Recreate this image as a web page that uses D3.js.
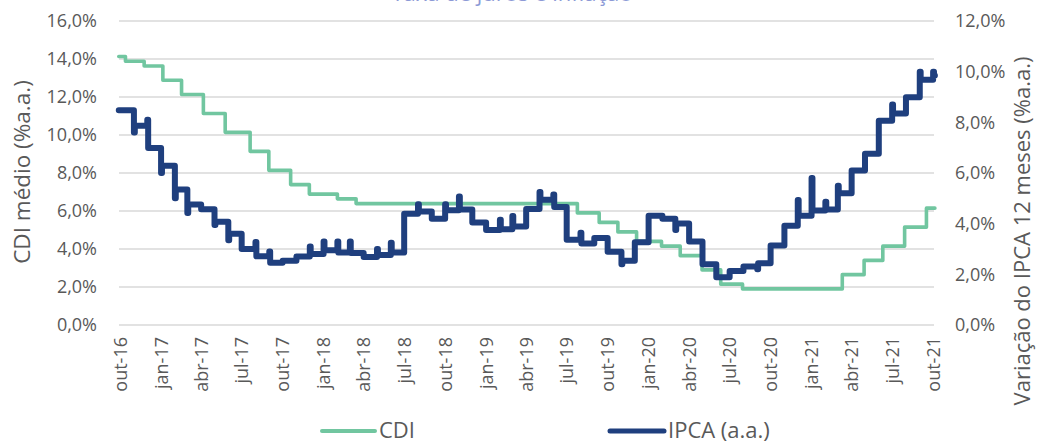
<!DOCTYPE html>
<html>
<head>
<meta charset="utf-8">
<script src="https://cdn.jsdelivr.net/npm/d3@7"></script>
<style>
  body { margin: 0; background: #fff; }
  text { font-family: "Open Sans", "Noto Sans", sans-serif; fill: #595959; }
</style>
</head>
<body>
<script>
var svgWidth = 1037;
var svgHeight = 441;

// plot box (gridlines run from left to right)
var plot = { left: 119, right: 934, top: 21, bottom: 325 };

// x tick labels, one every 3 months starting out-16
var tickLabels = ["out-16", "jan-17", "abr-17", "jul-17", "out-17", "jan-18", "abr-18",
  "jul-18", "out-18", "jan-19", "abr-19", "jul-19", "out-19", "jan-20", "abr-20",
  "jul-20", "out-20", "jan-21", "abr-21", "jul-21", "out-21"];

// CDI medio (% a.a.) - changes after each Copom meeting
var cdiDates = ["2016-10-05", "2016-10-20", "2016-12-01", "2017-01-12", "2017-02-23",
  "2017-04-13", "2017-06-01", "2017-07-27", "2017-09-07", "2017-10-26", "2017-12-07",
  "2018-02-08", "2018-03-22", "2019-08-01", "2019-09-19", "2019-10-31", "2019-12-12",
  "2020-02-06", "2020-03-19", "2020-05-07", "2020-06-18", "2020-08-06", "2021-03-18",
  "2021-05-06", "2021-06-17", "2021-08-05", "2021-09-23", "2021-10-12"];
var cdiValues = [14.13, 13.88, 13.63, 12.88, 12.13, 11.13, 10.14, 9.14, 8.14, 7.39, 6.89,
  6.64, 6.39, 5.90, 5.40, 4.90, 4.40, 4.15, 3.65, 2.90, 2.15, 1.90, 2.65, 3.40, 4.15,
  5.15, 6.15, 6.15];

// IPCA 12 meses (% a.a.), one value per monthly release (from out-16)
var ipcaValues = [8.48, 7.87, 6.99, 6.29, 5.35, 4.76, 4.57, 4.08, 3.60, 3.00, 2.71, 2.46,
  2.54, 2.70, 2.80, 2.95, 2.86, 2.84, 2.68, 2.76, 2.86, 4.39, 4.48, 4.19, 4.53, 4.56,
  4.05, 3.75, 3.78, 3.89, 4.58, 4.94, 4.66, 3.37, 3.22, 3.43, 2.89, 2.54, 3.27, 4.31,
  4.19, 4.01, 3.30, 2.40, 1.88, 2.13, 2.31, 2.44, 3.14, 3.92, 4.31, 4.52, 4.56, 5.20,
  6.10, 6.76, 8.06, 8.35, 8.99, 9.68, 9.85];
// short-lived value on the release day (null = none)
var ipcaBlips = [null, 7.6, 8.1, 6.0, 5.0, 4.42, null, 3.95, 3.35, null, 3.28, 2.9,
  null, null, 3.1, 3.3, 3.3, 3.3, null, 3.0, 3.25, null, 4.77, null, 4.77, 5.07,
  null, null, 4.15, 4.3, null, 5.25, 5.15, null, 3.64, null, null, 2.4, null, null,
  null, 3.75, null, null, null, null, null, 2.2, null, null, 4.93, 5.8, 4.87, 5.5,
  null, null, null, 8.7, null, 10.0, 10.0];

var parse = d3.timeParse("%Y-%m-%d");

var svg = d3.select("body")
  .append("svg")
  .attr("width", svgWidth)
  .attr("height", svgHeight);

var x = d3.scaleTime()
  .domain([new Date(2016, 9, 1), new Date(2021, 9, 1)])
  .range([117, 930]);

var yLeft = d3.scaleLinear().domain([0, 16]).range([plot.bottom, plot.top]);
var yRight = d3.scaleLinear().domain([0, 12]).range([plot.bottom, plot.top]);

var pct = d => d.toFixed(1).replace(".", ",") + "%";

// title, mostly cut off at the very top
svg.append("text")
  .attr("x", 512)
  .attr("y", 1)
  .attr("text-anchor", "middle")
  .style("font-size", "22px")
  .style("fill", "#8d9ad6")
  .text("Taxa de juros e inflação");

// gridlines
svg.append("g")
  .selectAll("line")
  .data(d3.range(0, 17, 2))
  .enter()
  .append("line")
  .attr("x1", plot.left)
  .attr("x2", plot.right)
  .attr("y1", d => yLeft(d))
  .attr("y2", d => yLeft(d))
  .attr("stroke", "#d9d9d9")
  .attr("stroke-width", 1.6);

// left axis
var leftAxis = svg.append("g")
  .attr("transform", `translate(${plot.left}, 0)`)
  .call(d3.axisLeft(yLeft).tickValues(d3.range(0, 17, 2)).tickFormat(pct).tickSize(0).tickPadding(22));

// right axis
var rightAxis = svg.append("g")
  .attr("transform", `translate(${plot.right}, 0)`)
  .call(d3.axisRight(yRight).tickValues(d3.range(0, 13, 2)).tickFormat(pct).tickSize(0).tickPadding(21));

// bottom axis
var tickDates = tickLabels.map((t, i) => new Date(2016, 9 + 3 * i, 1));
var bottomAxis = svg.append("g")
  .attr("transform", `translate(0, ${plot.bottom})`)
  .call(d3.axisBottom(x).tickValues(tickDates).tickFormat((d, i) => tickLabels[i]).tickSize(0));

bottomAxis.selectAll("text")
  .attr("transform", "rotate(-90)")
  .attr("text-anchor", "end")
  .attr("x", -12)
  .attr("y", 3)
  .attr("dy", "0.35em");

[leftAxis, rightAxis, bottomAxis].forEach(function(a) {
  a.select(".domain").remove();
  a.selectAll("text")
    .style("font-size", "18px")
    .style("font-family", "\"Open Sans\", sans-serif")
    .attr("fill", "#595959");
});

// axis titles
svg.append("text")
  .attr("transform", "translate(22, 172) rotate(-90)")
  .attr("text-anchor", "middle")
  .attr("dy", "0.35em")
  .style("font-size", "22.5px")
  .text("CDI médio (%a.a.)");

svg.append("text")
  .attr("transform", "translate(1022, 231) rotate(-90)")
  .attr("text-anchor", "middle")
  .attr("dy", "0.35em")
  .style("font-size", "22px")
  .text("Variação do IPCA 12 meses (%a.a.)");

// CDI line
var cdiData = cdiDates.map((d, i) => ({ date: parse(d), value: cdiValues[i] }));

var cdiLine = d3.line()
  .x(d => x(d.date))
  .y(d => yLeft(d.value))
  .curve(d3.curveStepAfter);

svg.append("path")
  .datum(cdiData)
  .attr("d", cdiLine)
  .attr("fill", "none")
  .attr("stroke", "#71c6a0")
  .attr("stroke-width", 3.6)
  .attr("stroke-linejoin", "round")
  .attr("stroke-linecap", "round");

// IPCA line, with the release-day blips
var ipcaData = [];
ipcaValues.forEach(function(v, k) {
  var release = k === 0 ? new Date(2016, 9, 5) : new Date(2016, 9 + k, 8);
  if (ipcaBlips[k] !== null) {
    ipcaData.push({ date: release, value: ipcaBlips[k] });
    ipcaData.push({ date: d3.timeDay.offset(release, 2), value: v });
  } else {
    ipcaData.push({ date: release, value: v });
  }
});
ipcaData.push({ date: new Date(2021, 9, 12), value: ipcaValues[ipcaValues.length - 1] });

var ipcaLine = d3.line()
  .x(d => x(d.date))
  .y(d => yRight(d.value))
  .curve(d3.curveStepAfter);

svg.append("path")
  .datum(ipcaData)
  .attr("d", ipcaLine)
  .attr("fill", "none")
  .attr("stroke", "#1f3f7e")
  .attr("stroke-width", 6)
  .attr("stroke-linejoin", "round")
  .attr("stroke-linecap", "round");

// legend
var legend = [
  { name: "CDI", color: "#71c6a0", width: 4, x1: 322, x2: 375 },
  { name: "IPCA (a.a.)", color: "#1f3f7e", width: 5, x1: 610, x2: 664 }
];

var legendGroup = svg.append("g");
legendGroup.selectAll("line")
  .data(legend)
  .enter()
  .append("line")
  .attr("x1", d => d.x1)
  .attr("x2", d => d.x2)
  .attr("y1", 431)
  .attr("y2", 431)
  .attr("stroke", d => d.color)
  .attr("stroke-width", d => d.width)
  .attr("stroke-linecap", "round");

legendGroup.selectAll("text")
  .data(legend)
  .enter()
  .append("text")
  .attr("x", d => d.x2 + 4)
  .attr("y", 438)
  .style("font-size", "22px")
  .text(d => d.name);
</script>
</body>
</html>
